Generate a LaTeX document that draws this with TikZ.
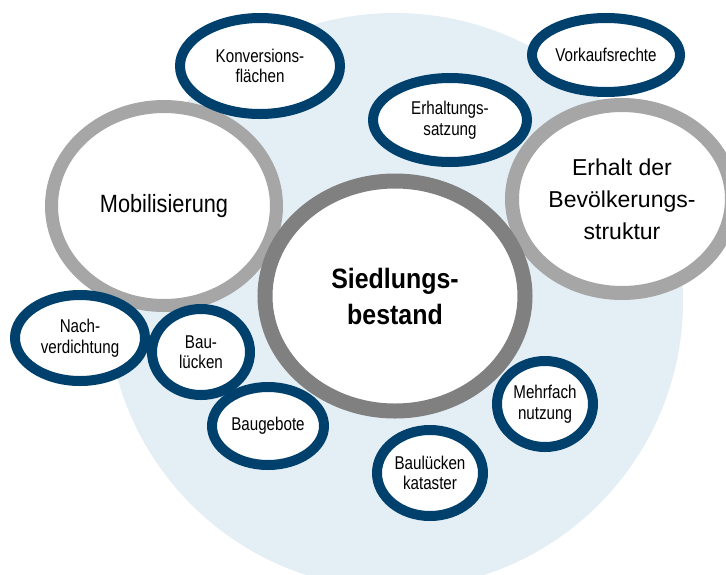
\documentclass[tikz,border=0pt]{standalone}
\usepackage{fontspec}
\setmainfont{Liberation Sans}
\newfontfamily\narrowfont[FakeStretch=0.82]{Liberation Sans}
\newfontfamily\midfont[FakeStretch=0.87]{Liberation Sans}
\newfontfamily\coreface[FakeStretch=0.89]{Liberation Sans}
\usetikzlibrary{shapes.geometric}

\definecolor{ringblue}{RGB}{0,64,108}
\definecolor{lightring}{RGB}{166,166,166}
\definecolor{darkring}{RGB}{128,128,128}
\definecolor{backblue}{RGB}{228,238,245}

\tikzset{bigring/.style={ellipse,draw=lightring,line width=13pt,fill=white,align=center,inner sep=0pt}}
\tikzset{smallring/.style={ellipse,draw=ringblue,line width=10pt,fill=white,align=center,inner sep=0pt,
  font=\narrowfont\fontsize{18.5}{20.5}\selectfont}}

\begin{document}
\begin{tikzpicture}[x=1pt,y=-1pt]
\useasboundingbox (0,0) rectangle (726,574);
\fill[backblue] (395,301) circle (288pt);

\node[bigring,minimum width=225pt,minimum height=199pt,font=\midfont\fontsize{25}{30}\selectfont] (mobil) at (164,206) {Mobilisierung};
\node[bigring,line width=14pt,minimum width=220pt,minimum height=188pt,font=\fontsize{23}{32}\selectfont] (erhalt) at (622,199) {Erhalt der\\Bevölkerungs-\\struktur};
\node[bigring,draw=darkring,line width=15pt,minimum width=260pt,minimum height=230pt,font=\coreface\bfseries\fontsize{28}{36}\selectfont] (bestand) at (395,296) {Siedlungs-\\bestand};

\node[smallring,minimum width=160pt,minimum height=96pt] (konv) at (260,66) {Konversions-\\flächen};
\node[smallring,minimum width=154pt,minimum height=84pt] (satzung) at (450,120) {Erhaltungs-\\satzung};
\node[smallring,minimum width=148pt,minimum height=74pt] (vorkauf) at (606,55) {Vorkaufsrechte};
\node[smallring,minimum width=130pt,minimum height=86pt] (nach) at (80,338) {Nach-\\verdichtung};
\node[smallring,minimum width=98pt,minimum height=86pt] (luecken) at (201,352) {Bau-\\lücken};
\node[smallring,minimum width=112pt,minimum height=78pt] (gebote) at (268,426) {Baugebote};
\node[smallring,minimum width=96pt,minimum height=86pt] (mehrfach) at (545,404) {Mehrfach\\nutzung};
\node[smallring,minimum width=106pt,minimum height=86pt] (kataster) at (430,473) {Baulücken\\kataster};
\end{tikzpicture}
\end{document}
